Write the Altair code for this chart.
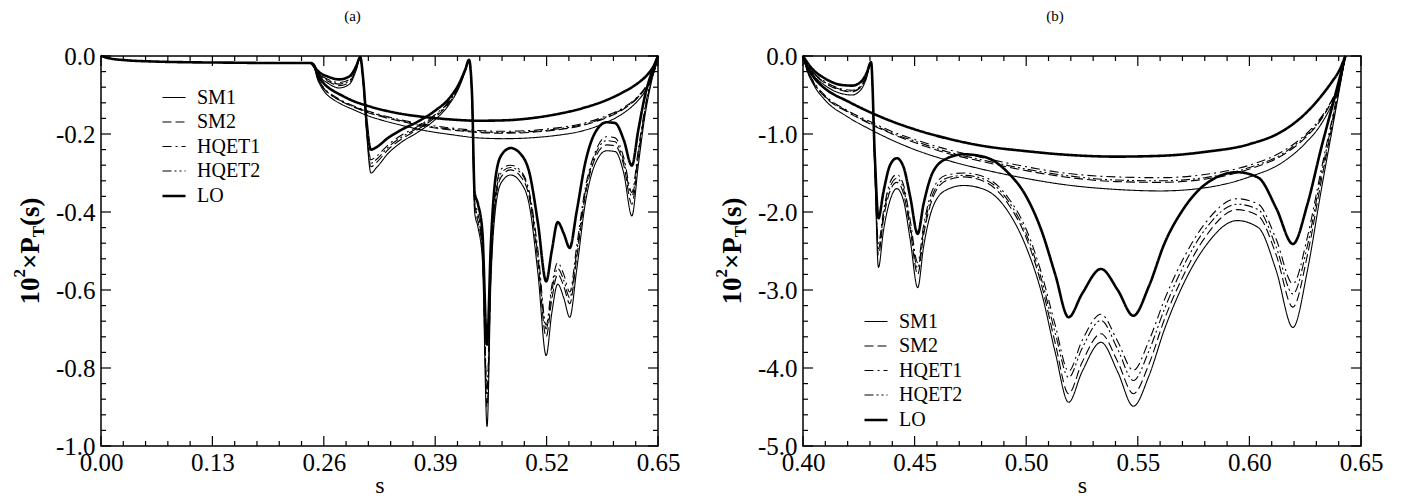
import altair as alt
import pandas as pd

MODELS = ["SM1", "SM2", "HQET1", "HQET2", "LO"]
DASHES = [[1, 0], [9, 4], [9, 4, 2, 4], [9, 3, 2, 3, 2, 3], [1, 0]]
WIDTHS = [1.1, 1.1, 1.1, 1.1, 2.6]

# ---------------- panel (a) ----------------
A_FLAT_S = [0.0, 0.01, 0.03, 0.06, 0.10, 0.15, 0.20, 0.245]
A_FLAT_V = [0.0, -0.006, -0.011, -0.014, -0.016, -0.017, -0.018, -0.018]

RA_S = [0.249, 0.255, 0.265, 0.278, 0.290, 0.298, 0.3025, 0.306, 0.310, 0.315, 0.322, 0.335,
        0.350, 0.370, 0.390, 0.405, 0.418, 0.425, 0.4295, 0.433, 0.436, 0.440, 0.445, 0.4505,
        0.455, 0.460, 0.467, 0.478, 0.490, 0.500, 0.510, 0.5195, 0.526, 0.533, 0.540, 0.547,
        0.555, 0.565, 0.577, 0.590, 0.600, 0.610, 0.6195, 0.627, 0.635, 0.643, 0.650]
RA = {
    "LO": [-0.028, -0.042, -0.053, -0.060, -0.052, -0.025, -0.003, -0.06, -0.17, -0.240, -0.233, -0.210,
           -0.190, -0.168, -0.140, -0.112, -0.070, -0.035, -0.010, -0.10, -0.35, -0.38, -0.45, -0.74,
           -0.48, -0.32, -0.255, -0.236, -0.252, -0.30, -0.43, -0.578, -0.50, -0.426, -0.455, -0.492,
           -0.40, -0.275, -0.195, -0.170, -0.172, -0.215, -0.281, -0.19, -0.10, -0.04, 0.0],
    "SM1": [-0.030, -0.052, -0.070, -0.082, -0.072, -0.035, -0.004, -0.07, -0.20, -0.300, -0.285, -0.250,
            -0.222, -0.195, -0.163, -0.128, -0.080, -0.040, -0.012, -0.12, -0.40, -0.44, -0.52, -0.95,
            -0.58, -0.40, -0.325, -0.305, -0.325, -0.385, -0.56, -0.768, -0.66, -0.585, -0.62, -0.670,
            -0.55, -0.38, -0.275, -0.243, -0.245, -0.30, -0.41, -0.28, -0.15, -0.06, 0.0],
    "SM2": [-0.029, -0.049, -0.065, -0.076, -0.067, -0.032, -0.004, -0.067, -0.19, -0.284, -0.272, -0.240,
            -0.214, -0.188, -0.157, -0.124, -0.077, -0.039, -0.011, -0.115, -0.39, -0.425, -0.50, -0.90,
            -0.56, -0.38, -0.31, -0.292, -0.31, -0.365, -0.53, -0.72, -0.625, -0.56, -0.59, -0.635,
            -0.52, -0.36, -0.26, -0.228, -0.23, -0.28, -0.38, -0.26, -0.14, -0.055, 0.0],
    "HQET1": [-0.028, -0.046, -0.060, -0.068, -0.060, -0.029, -0.003, -0.064, -0.18, -0.266, -0.256, -0.228,
              -0.204, -0.180, -0.150, -0.119, -0.074, -0.037, -0.011, -0.11, -0.37, -0.405, -0.48, -0.85,
              -0.53, -0.36, -0.29, -0.28, -0.295, -0.35, -0.50, -0.69, -0.59, -0.53, -0.56, -0.605,
              -0.49, -0.34, -0.245, -0.207, -0.21, -0.26, -0.35, -0.24, -0.13, -0.05, 0.0],
    "HQET2": [-0.029, -0.047, -0.062, -0.072, -0.063, -0.030, -0.003, -0.065, -0.185, -0.275, -0.264, -0.234,
              -0.209, -0.184, -0.153, -0.121, -0.075, -0.038, -0.011, -0.112, -0.38, -0.415, -0.49, -0.87,
              -0.545, -0.37, -0.30, -0.286, -0.30, -0.357, -0.515, -0.70, -0.605, -0.545, -0.575, -0.62,
              -0.505, -0.35, -0.252, -0.217, -0.22, -0.27, -0.36, -0.25, -0.135, -0.052, 0.0],
}

UA_S = [0.245, 0.249, 0.252, 0.256, 0.262, 0.270, 0.280, 0.295, 0.310, 0.330, 0.355, 0.380, 0.410,
        0.440, 0.470, 0.500, 0.530, 0.560, 0.590, 0.610, 0.625, 0.635, 0.642, 0.647, 0.650]
UA = {
    "LO": [-0.018, -0.025, -0.045, -0.060, -0.075, -0.088, -0.100, -0.116, -0.127, -0.139, -0.150, -0.157,
           -0.163, -0.166, -0.165, -0.160, -0.150, -0.135, -0.113, -0.092, -0.072, -0.054, -0.036, -0.017, 0.0],
    "SM1": [-0.018, -0.028, -0.055, -0.075, -0.095, -0.110, -0.123, -0.138, -0.152, -0.166, -0.180, -0.192,
            -0.202, -0.210, -0.212, -0.210, -0.204, -0.193, -0.170, -0.146, -0.118, -0.090, -0.060, -0.030, 0.0],
    "SM2": [-0.018, -0.027, -0.052, -0.071, -0.089, -0.103, -0.116, -0.131, -0.144, -0.157, -0.170, -0.181,
            -0.190, -0.196, -0.198, -0.196, -0.190, -0.179, -0.158, -0.136, -0.110, -0.084, -0.056, -0.028, 0.0],
    "HQET1": [-0.018, -0.027, -0.051, -0.069, -0.086, -0.100, -0.113, -0.128, -0.140, -0.153, -0.166, -0.176,
              -0.185, -0.191, -0.193, -0.191, -0.185, -0.174, -0.153, -0.132, -0.107, -0.081, -0.054, -0.027, 0.0],
    "HQET2": [-0.018, -0.027, -0.052, -0.070, -0.088, -0.102, -0.115, -0.130, -0.142, -0.155, -0.168, -0.179,
              -0.188, -0.194, -0.196, -0.194, -0.188, -0.177, -0.156, -0.134, -0.109, -0.083, -0.055, -0.028, 0.0],
}

# ---------------- panel (b) ----------------
RB_S = [0.400, 0.404, 0.410, 0.417, 0.422, 0.426, 0.4285, 0.4305, 0.4322, 0.4338, 0.436, 0.439, 0.442,
        0.445, 0.448, 0.4514, 0.454, 0.458, 0.464, 0.472, 0.482, 0.492, 0.500, 0.507, 0.513, 0.519,
        0.525, 0.5335, 0.541, 0.548, 0.555, 0.562, 0.570, 0.580, 0.5945, 0.604, 0.612, 0.6195, 0.626,
        0.632, 0.638, 0.643]
RB = {
    "LO": [0.0, -0.16, -0.29, -0.37, -0.38, -0.33, -0.22, -0.08, -1.3, -2.08, -1.75, -1.40, -1.31,
           -1.42, -1.80, -2.28, -1.90, -1.50, -1.32, -1.26, -1.30, -1.50, -1.80, -2.25, -2.80, -3.35,
           -3.05, -2.73, -3.00, -3.33, -2.95, -2.40, -1.98, -1.65, -1.49, -1.56, -1.95, -2.41, -1.90,
           -1.20, -0.55, 0.0],
    "SM1": [0.0, -0.22, -0.38, -0.48, -0.50, -0.43, -0.28, -0.08, -1.5, -2.71, -2.25, -1.85, -1.70,
            -1.85, -2.35, -2.97, -2.45, -1.95, -1.72, -1.66, -1.72, -2.00, -2.45, -3.05, -3.80, -4.44,
            -4.05, -3.67, -4.05, -4.49, -4.10, -3.50, -2.95, -2.45, -2.11, -2.20, -2.75, -3.48, -2.75,
            -1.75, -0.80, 0.0],
    "SM2": [0.0, -0.20, -0.35, -0.44, -0.46, -0.40, -0.26, -0.08, -1.45, -2.55, -2.10, -1.73, -1.62,
            -1.76, -2.22, -2.80, -2.30, -1.83, -1.60, -1.55, -1.62, -1.90, -2.33, -2.95, -3.68, -4.33,
            -3.93, -3.56, -3.92, -4.33, -3.95, -3.37, -2.84, -2.33, -1.97, -2.05, -2.55, -3.22, -2.55,
            -1.63, -0.75, 0.0],
    "HQET1": [0.0, -0.19, -0.33, -0.42, -0.44, -0.38, -0.25, -0.08, -1.4, -2.40, -2.00, -1.62, -1.52,
              -1.65, -2.10, -2.65, -2.18, -1.72, -1.53, -1.50, -1.56, -1.82, -2.22, -2.80, -3.45, -4.04,
              -3.65, -3.31, -3.66, -4.03, -3.65, -3.12, -2.62, -2.15, -1.83, -1.90, -2.35, -2.92, -2.32,
              -1.48, -0.68, 0.0],
    "HQET2": [0.0, -0.195, -0.34, -0.43, -0.45, -0.39, -0.255, -0.08, -1.42, -2.47, -2.05, -1.68, -1.57,
              -1.70, -2.16, -2.72, -2.24, -1.78, -1.57, -1.53, -1.59, -1.86, -2.28, -2.88, -3.55, -4.12,
              -3.75, -3.39, -3.76, -4.16, -3.78, -3.24, -2.72, -2.23, -1.90, -1.97, -2.45, -3.05, -2.43,
              -1.55, -0.71, 0.0],
}

UB_S = [0.400, 0.402, 0.405, 0.410, 0.420, 0.430, 0.440, 0.450, 0.465, 0.480, 0.500, 0.520, 0.540,
        0.560, 0.580, 0.600, 0.615, 0.625, 0.632, 0.637, 0.640, 0.643]
UB = {
    "LO": [0.0, -0.15, -0.28, -0.42, -0.58, -0.72, -0.84, -0.94, -1.06, -1.15, -1.22, -1.27, -1.29,
           -1.28, -1.23, -1.13, -0.96, -0.74, -0.52, -0.33, -0.20, 0.0],
    "SM1": [0.0, -0.20, -0.38, -0.57, -0.78, -0.94, -1.08, -1.20, -1.34, -1.45, -1.57, -1.66, -1.71,
            -1.73, -1.69, -1.55, -1.36, -1.12, -0.88, -0.62, -0.42, 0.0],
    "SM2": [0.0, -0.19, -0.36, -0.53, -0.72, -0.87, -1.00, -1.11, -1.25, -1.35, -1.47, -1.56, -1.61,
            -1.62, -1.58, -1.45, -1.27, -1.05, -0.82, -0.58, -0.39, 0.0],
    "HQET1": [0.0, -0.18, -0.34, -0.51, -0.70, -0.84, -0.97, -1.07, -1.20, -1.30, -1.42, -1.51, -1.55,
              -1.56, -1.52, -1.40, -1.22, -1.01, -0.79, -0.56, -0.38, 0.0],
    "HQET2": [0.0, -0.185, -0.35, -0.52, -0.71, -0.86, -0.99, -1.09, -1.23, -1.33, -1.45, -1.54, -1.59,
              -1.60, -1.56, -1.43, -1.25, -1.03, -0.81, -0.57, -0.385, 0.0],
}

# tick values
A_XMAJOR = [0.0, 0.13, 0.26, 0.39, 0.52, 0.65]
A_XMINOR = [round(0.026 * i, 3) for i in range(26) if i % 5]
A_YMAJOR = [0.0, -0.2, -0.4, -0.6, -0.8, -1.0]
A_YMINOR = [round(-0.04 * i, 2) for i in range(26) if i % 5]
B_XMAJOR = [0.40, 0.45, 0.50, 0.55, 0.60, 0.65]
B_XMINOR = [round(0.40 + 0.01 * i, 2) for i in range(26) if i % 5]
B_YMAJOR = [0.0, -1.0, -2.0, -3.0, -4.0, -5.0]
B_YMINOR = [round(-0.2 * i, 1) for i in range(26) if i % 5]

FONT = "Liberation Serif"
# y-title pieces: text, font size, shift (up is negative), advance
TITLE_PIECES = [("10", 27, 0, 27.0), ("2", 17, -14, 8.5), ("\u00d7P", 27, 0, 31.9),
                ("T", 17, 5, 11.3), ("(s)", 27, 0, 28.5)]


def make_frame(branches):
    rows = []
    for bname, s_list, vals, prefix in branches:
        for m in MODELS:
            ss = list(prefix[0]) + list(s_list)
            vv = list(prefix[1]) + list(vals[m])
            for s, v in zip(ss, vv):
                rows.append({"s": s, "v": v, "model": m, "branch": bname})
    return pd.DataFrame(rows)


def panel(df, title, xdom, ydom, xmaj, xmin, ymaj, ymin, W, H, legx, legy):
    xs = alt.Scale(domain=xdom, nice=False, zero=False)
    ys = alt.Scale(domain=ydom, nice=False, zero=False)
    ax_x = alt.Axis(values=xmaj, format=".2f", labelFlush=False, titleFontSize=24,
                    titleFontWeight="normal", titlePadding=-2, labelPadding=4)
    ax_y = alt.Axis(values=ymaj, labelFlush=False, labelPadding=6,
                    labelExpr="replace(format(datum.value, '.1f'), '\u2212', '-')")
    lines = alt.Chart(df).mark_line(interpolate="monotone", color="black").encode(
        x=alt.X("s:Q", scale=xs, title="s", axis=ax_x),
        y=alt.Y("v:Q", scale=ys, title=None, axis=ax_y),
        strokeDash=alt.StrokeDash("model:N", scale=alt.Scale(domain=MODELS, range=DASHES), title=None,
                                  legend=alt.Legend(orient="none", legendX=legx, legendY=legy)),
        strokeWidth=alt.StrokeWidth("model:N",
                                    scale=alt.Scale(type="ordinal", domain=MODELS, range=WIDTHS),
                                    title=None,
                                    legend=alt.Legend(orient="none", legendX=legx, legendY=legy)),
        detail="branch:N",
    )
    layers = [lines]
    for vals, L in ((xmaj, 10), (xmin, 5)):
        base = alt.Chart(pd.DataFrame({"s": vals})).mark_rule(color="black", strokeWidth=1.2)
        layers.append(base.encode(x=alt.X("s:Q", scale=xs, title="s", axis=ax_x),
                                  y=alt.value(H), y2=alt.value(H - L)))
        layers.append(base.encode(x=alt.X("s:Q", scale=xs, title="s", axis=ax_x),
                                  y=alt.value(0), y2=alt.value(L)))
    for vals, L in ((ymaj, 10), (ymin, 5)):
        base = alt.Chart(pd.DataFrame({"v": vals})).mark_rule(color="black", strokeWidth=1.2)
        layers.append(base.encode(y=alt.Y("v:Q", scale=ys, title=None, axis=ax_y),
                                  x=alt.value(0), x2=alt.value(L)))
        layers.append(base.encode(y=alt.Y("v:Q", scale=ys, title=None, axis=ax_y),
                                  x=alt.value(W), x2=alt.value(W - L)))
    total = sum(p[3] for p in TITLE_PIECES)
    y0 = H / 2 + total / 2
    for txt, fs, shift, adv in TITLE_PIECES:
        layers.append(
            alt.Chart(pd.DataFrame({"t": [txt]})).mark_text(
                angle=270, align="left", baseline="alphabetic", font=FONT, fontSize=fs,
                fontWeight="bold", color="black"
            ).encode(text="t:N", x=alt.value(-62 + shift), y=alt.value(y0))
        )
        y0 -= adv
    return alt.layer(*layers).properties(
        width=W, height=H,
        title=alt.Title(title, dx=-27, offset=20, anchor="middle"),
    )


df_a = make_frame([("res", RA_S, RA, (A_FLAT_S, A_FLAT_V)), ("u", UA_S, UA, ([], []))])
df_b = make_frame([("res", RB_S, RB, ([], [])), ("u", UB_S, UB, ([], []))])

pa = panel(df_a, "(a)", [0, 0.65], [-1.0, 0.0], A_XMAJOR, A_XMINOR, A_YMAJOR, A_YMINOR,
           557, 390, 60, 29)
pb = panel(df_b, "(b)", [0.40, 0.65], [-5.0, 0.0], B_XMAJOR, B_XMINOR, B_YMAJOR, B_YMINOR,
           558, 390, 60, 253)

chart = alt.hconcat(pa, pb, spacing=31).resolve_scale(
    strokeDash="independent", strokeWidth="independent"
).properties(padding={"left": 2, "top": 0, "right": 0, "bottom": 0}).configure_axis(
    labelFont=FONT, labelFontSize=25, labelColor="black", titleFont=FONT, titleColor="black",
    grid=False, ticks=False, domain=False
).configure_legend(
    labelFont=FONT, labelFontSize=20, labelColor="black", symbolType="stroke", symbolSize=529,
    symbolStrokeColor="black", rowPadding=1.5, labelOffset=10, padding=0
).configure_title(
    font=FONT, fontSize=15, fontWeight="normal", color="black"
).configure_view(stroke="black", strokeWidth=1.5)

chart.save("out.html", embed_options={"renderer": "svg", "actions": False})
